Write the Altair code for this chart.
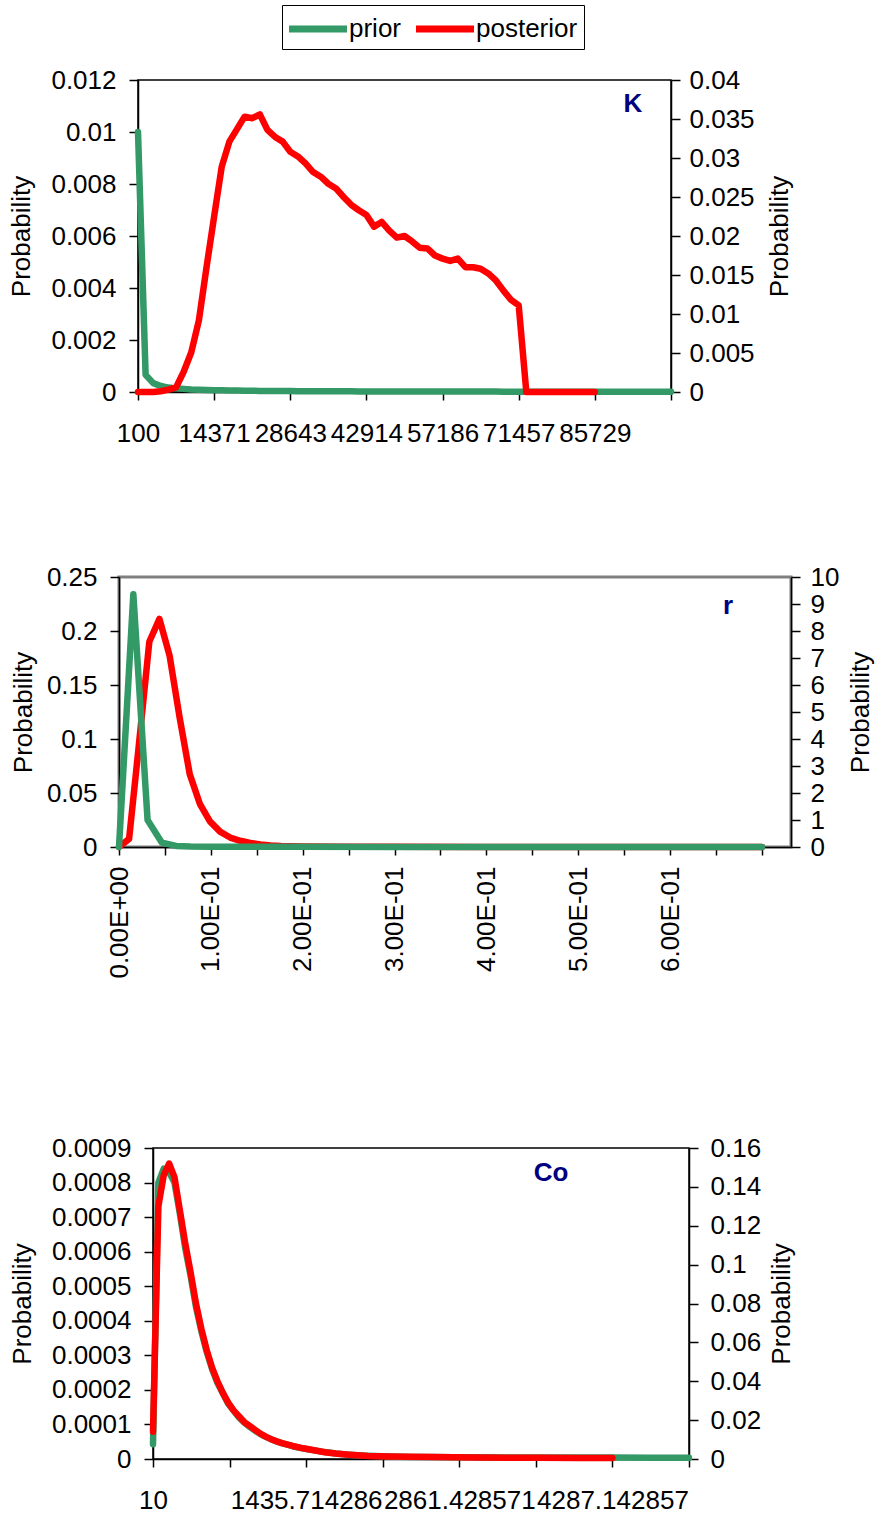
import altair as alt
import pandas as pd

GREEN = "#339966"
RED = "#FF0000"
NAVY = "#000080"
FONT = "Liberation Sans"
FS = 26
SERIES = ["prior", "posterior"]

# ---------------- K panel ----------------
K_X0 = 100
K_DX = 1427.142857
K_PRIOR = [0.0100, 0.00066, 0.00034, 0.00023, 0.00017, 0.00014, 0.00012, 0.00010,
           0.00009, 0.00008, 0.000070, 0.000064, 0.000058, 0.000054, 0.000050, 0.000046,
           0.000043, 0.000041, 0.000039, 0.000037, 0.000035, 0.000033, 0.000032, 0.000030,
           0.000029, 0.000028, 0.000027, 0.000026, 0.000025, 0.000024, 0.000023, 0.000023,
           0.000022, 0.000021, 0.000021, 0.000020, 0.000019, 0.000019, 0.000018, 0.000018,
           0.000017, 0.000017, 0.000017, 0.000016, 0.000016, 0.000015, 0.000015, 0.000015,
           0.000014, 0.000014, 0.000014, 0.000014, 0.000013, 0.000013, 0.000013, 0.000012,
           0.000012, 0.000012, 0.000012, 0.000011, 0.000011, 0.000011, 0.000011, 0.000011,
           0.000010, 0.000010, 0.000010, 0.000010, 0.000010, 0.000010, 0.000010]
K_POSTERIOR = [0, 0, 0, 0.0001, 0.0003, 0.0006, 0.0026, 0.0051, 0.0092, 0.0160,
               0.0225, 0.0289, 0.0321, 0.0337, 0.0353, 0.0351, 0.0356, 0.0336, 0.0327, 0.0321,
               0.0308, 0.0302, 0.0293, 0.0282, 0.0276, 0.0267, 0.0261, 0.0250, 0.0240, 0.0233,
               0.0227, 0.0212, 0.0218, 0.0207, 0.0198, 0.0200, 0.0193, 0.0185, 0.0184, 0.0175,
               0.0171, 0.0168, 0.0171, 0.0160, 0.0160, 0.0158, 0.0152, 0.0143, 0.0130, 0.0118,
               0.0111, 0, 0, 0, 0, 0, 0, 0, 0, 0, 0]
K_TICKS = [100, 14371.428571, 28642.857143, 42914.285714, 57185.714286,
           71457.142857, 85728.571429, 100000]
K_TICK_LABELS = ["100", "14371", "28643", "42914", "57186", "71457", "85729", ""]
K_LEFT_TICKS = [0, 0.002, 0.004, 0.006, 0.008, 0.01, 0.012]
K_RIGHT_TICKS = [0, 0.005, 0.01, 0.015, 0.02, 0.025, 0.03, 0.035, 0.04]

# ---------------- r panel ----------------
R_PRIOR_X = [0, 0.0156, 0.0311, 0.0467, 0.0622, 0.0778, 0.1, 0.15, 0.2, 0.3, 0.4, 0.5, 0.6, 0.7]
R_PRIOR = [0, 0.234, 0.025, 0.004, 0.001, 0.0005, 0.0003, 0.0002, 0.0002, 0.0001,
           0.0001, 0.0001, 0.0001, 0.0001]
R_POST_X = [0, 0.011, 0.022, 0.033, 0.044, 0.055, 0.066, 0.077, 0.088, 0.099, 0.110,
            0.121, 0.132, 0.143, 0.154, 0.165, 0.176, 0.187, 0.2, 0.25, 0.3, 0.4, 0.5, 0.6, 0.7]
R_POSTERIOR = [0, 0.3, 3.9, 7.6, 8.45, 7.1, 4.8, 2.7, 1.6, 0.95, 0.57,
               0.35, 0.23, 0.15, 0.09, 0.06, 0.04, 0.03, 0.02, 0.01, 0.005, 0.002, 0.001, 0.0005, 0.0003]
R_TICKS = [0, 0.05, 0.1, 0.15, 0.2, 0.25, 0.3, 0.35, 0.4, 0.45, 0.5, 0.55, 0.6, 0.65, 0.7]
R_TICK_LABELS = ["0.00E+00", "", "1.00E-01", "", "2.00E-01", "", "3.00E-01", "",
                 "4.00E-01", "", "5.00E-01", "", "6.00E-01", "", ""]
R_LEFT_TICKS = [0, 0.05, 0.1, 0.15, 0.2, 0.25]
R_RIGHT_TICKS = [0, 1, 2, 3, 4, 5, 6, 7, 8, 9, 10]

# ---------------- Co panel ----------------
CO_PRIOR_X = [10, 60, 110, 160, 210, 260, 310, 360, 410, 460, 510, 560, 610, 660, 710,
              760, 810, 860, 910, 960, 1010, 1060, 1110, 1160, 1210, 1310, 1410, 1510,
              1610, 1710, 1810, 1910, 2010, 2210, 2410, 2610, 2810, 3010, 3310, 3610,
              3960, 4287, 4650, 5000]
CO_PRIOR = [0.000043, 0.00080, 0.00084, 0.00083, 0.00080, 0.00071, 0.00061, 0.00053,
            0.00044, 0.00037, 0.00031, 0.00026, 0.00022, 0.00019, 0.00016, 0.00014,
            0.00012, 0.000105, 0.000093, 0.000082, 0.000072, 0.000064, 0.000057, 0.000051,
            0.000046, 0.000037, 0.000030, 0.000025, 0.000020, 0.000016, 0.000013, 0.000011,
            0.0000095, 0.0000075, 0.000006, 0.0000055, 0.000005, 0.0000048, 0.0000045,
            0.0000043, 0.000004, 0.000004, 0.0000038, 0.0000037]
CO_POST_X = [10, 60, 110, 160, 210, 260, 310, 360, 410, 460, 510, 560, 610, 660, 710,
             760, 810, 860, 910, 960, 1010, 1060, 1110, 1160, 1210, 1310, 1410, 1510,
             1610, 1710, 1810, 1910, 2010, 2210, 2410, 2610, 2810, 3010, 3310, 3610,
             3960, 4287]
CO_POSTERIOR = [0.014, 0.13, 0.146, 0.152, 0.145, 0.128, 0.111, 0.096, 0.080, 0.067,
                0.056, 0.047, 0.040, 0.034, 0.029, 0.025, 0.022, 0.019, 0.017, 0.015,
                0.013, 0.0115, 0.0102, 0.0091, 0.0082, 0.0067, 0.0055, 0.0045, 0.0035,
                0.0028, 0.0023, 0.0019, 0.0016, 0.0013, 0.0011, 0.0010, 0.0009, 0.0008,
                0.0007, 0.0006, 0.0005, 0.0005]
CO_TICKS = [10, 722.857143, 1435.714286, 2148.571429, 2861.428571, 3574.285714,
            4287.142857, 5000]
CO_TICK_LABELS = ["10", "", "1435.714286", "", "2861.428571", "", "4287.142857", ""]
CO_LEFT_TICKS = [0, 0.0001, 0.0002, 0.0003, 0.0004, 0.0005, 0.0006, 0.0007, 0.0008, 0.0009]
CO_RIGHT_TICKS = [0, 0.02, 0.04, 0.06, 0.08, 0.1, 0.12, 0.14, 0.16]

COLORS = {"prior": GREEN, "posterior": RED}


def label_expr(values, labels, eps):
    expr = "''"
    for v, lab in reversed(list(zip(values, labels))):
        expr = f"(abs(datum.value - {v}) < {eps}) ? '{lab}' : {expr}"
    return expr


def panel(px, py, qx, qy, xdom, xticks, xlabels, eps, ldom, lticks, rdom, rticks,
          width, height, name, name_pos, left_tp, right_lp, right_tp, x_angle, x_lp,
          border_color, border_width, prior_on_top=False):
    xaxis = alt.Axis(values=xticks, labelExpr=label_expr(xticks, xlabels, eps), title=None,
                     labelOverlap=False, labelFlush=False, labelBound=False, tickSize=8,
                     labelPadding=x_lp, labelAngle=x_angle, grid=False)
    x = alt.X("x:Q", scale=alt.Scale(domain=xdom, nice=False, zero=False), axis=xaxis)
    left_axis = alt.Axis(orient="left", values=lticks, format="~r", title="Probability",
                         tickSize=9, labelPadding=13, titlePadding=left_tp, grid=False)
    right_axis = alt.Axis(orient="right", values=rticks, format="~r", title="Probability",
                          tickSize=9, labelPadding=right_lp, titlePadding=right_tp,
                          titleAngle=270, titleBaseline="top", grid=False)
    prior_df = pd.DataFrame({"x": px, "y": py})
    post_df = pd.DataFrame({"x": qx, "y": qy})
    prior = alt.Chart(prior_df).mark_line(strokeWidth=6.5, strokeCap="round", strokeJoin="round").encode(
        x=x, y=alt.Y("y:Q", scale=alt.Scale(domain=ldom, nice=False), axis=left_axis),
        color=alt.value(COLORS["prior"]))
    post = alt.Chart(post_df).mark_line(strokeWidth=6.5, strokeCap="round", strokeJoin="round").encode(
        x=x, y=alt.Y("y:Q", scale=alt.Scale(domain=rdom, nice=False), axis=right_axis),
        color=alt.value(COLORS["posterior"]))
    label = alt.Chart(pd.DataFrame({"t": [name]})).mark_text(
        font=FONT, fontSize=FS, fontWeight="bold", color=NAVY, align="center", baseline="middle"
    ).encode(text="t:N", x=alt.value(name_pos[0]), y=alt.value(name_pos[1]))
    layers = [post, prior, label] if prior_on_top else [prior, post, label]
    return alt.layer(*layers).resolve_scale(y="independent").properties(
        width=width, height=height,
        view=alt.ViewBackground(stroke=border_color, strokeWidth=border_width))


def spacer():
    return alt.Chart(pd.DataFrame({"s": pd.Series([], dtype=float)})).mark_point().encode(
        x=alt.value(0), y=alt.value(0)
    ).properties(width=1, height=1, view=alt.ViewBackground(stroke=None))


# legend holder: an empty chart whose colour scale carries the legend
legend_chart = alt.Chart(pd.DataFrame({"series": pd.Series([], dtype=str)})).mark_point(
    opacity=1, filled=False
).encode(
    color=alt.Color("series:N", scale=alt.Scale(domain=SERIES, range=[GREEN, RED]),
                    legend=alt.Legend(
                        title=None, orient="right", offset=0, direction="horizontal",
                        symbolType="M-2,0H2", symbolSize=841, symbolStrokeWidth=7,
                        symbolOffset=12, symbolOpacity=1, symbolFillColor="transparent",
                        labelFont=FONT, labelFontSize=FS, labelColor="black", labelOffset=13,
                        columnPadding=0, padding=6, strokeColor="black", fillColor="white"))
).properties(width=275, height=1, view=alt.ViewBackground(stroke=None))

k_x = [K_X0 + i * K_DX for i in range(len(K_PRIOR))]
k_panel = panel(k_x, K_PRIOR, k_x[:len(K_POSTERIOR)], K_POSTERIOR, [100, 100000], K_TICKS,
                K_TICK_LABELS, 1, [0, 0.012], K_LEFT_TICKS, [0, 0.04], K_RIGHT_TICKS,
                533, 312, "K", (495, 24), 16, 9, 12, 0, 20, "black", 1.5)
r_panel = panel(R_PRIOR_X, R_PRIOR, R_POST_X, R_POSTERIOR, [0, 0.7316], R_TICKS,
                R_TICK_LABELS, 1e-6, [0, 0.25], R_LEFT_TICKS, [0, 10], R_RIGHT_TICKS,
                672, 270, "r", (609, 29), 10, 10, 9, 270, 11, "#808080", 3, prior_on_top=True)
co_panel = panel(CO_PRIOR_X, CO_PRIOR, CO_POST_X, CO_POSTERIOR, [10, 5000], CO_TICKS,
                 CO_TICK_LABELS, 0.01, [0, 0.0009], CO_LEFT_TICKS, [0, 0.16], CO_RIGHT_TICKS,
                 536, 311, "Co", (398, 25), 16, 12, 8, 0, 20, "black", 1.5)

rows = [alt.hconcat(spacer(), p, spacing=0) for p in (k_panel, r_panel, co_panel)]
top = alt.vconcat(legend_chart, rows[0], spacing=16).resolve_scale(color="independent")
mid = alt.vconcat(top, rows[1], spacing=115).resolve_scale(color="independent")
chart = alt.vconcat(mid, rows[2], spacing=154).resolve_scale(color="independent").properties(
    padding={"left": 7, "top": 4, "right": 0, "bottom": 0}
).configure(font=FONT).configure_axis(
    labelFont=FONT, labelFontSize=FS, titleFont=FONT, titleFontSize=FS,
    titleFontWeight="normal", labelColor="black", titleColor="black",
    domainColor="black", tickColor="black", domainWidth=1.5, tickWidth=1.5,
)

chart.save("out.html", embed_options={"renderer": "svg", "actions": False})
